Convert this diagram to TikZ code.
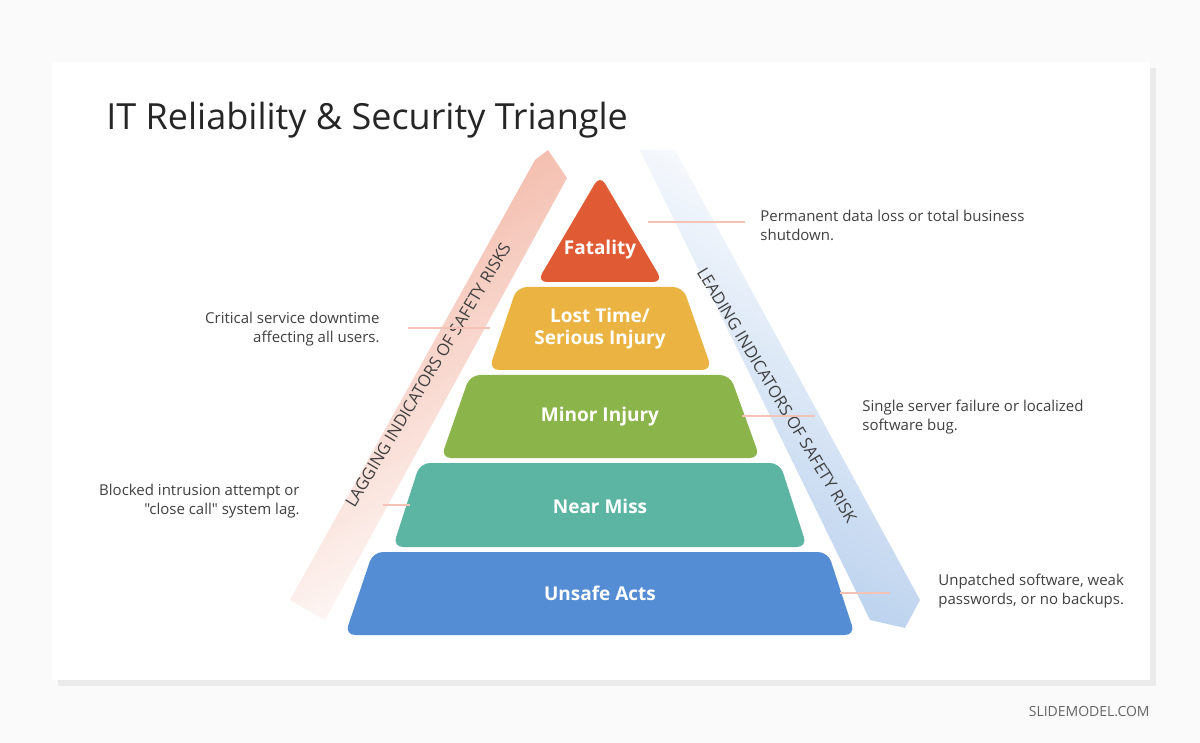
\documentclass[tikz,border=0pt]{standalone}
\usepackage{fontspec}
\setmainfont{Open Sans}[Ligatures=TeXOff]
\usetikzlibrary{shadows}
\definecolor{fatal}{HTML}{E05A33}
\definecolor{lost}{HTML}{EBB342}
\definecolor{minor}{HTML}{8BB54A}
\definecolor{near}{HTML}{5BB5A2}
\definecolor{unsafe}{HTML}{548DD4}
\definecolor{lagc}{HTML}{F2B4A2}
\definecolor{leadc}{HTML}{B4CDEC}
\definecolor{txt}{HTML}{404040}
\tikzset{
	layer/.style={rounded corners=5pt},
	lvl/.style={font=\bfseries\fontsize{9.5}{11}\selectfont, text=white, align=center},
	note/.style={font=\fontsize{7.5}{9.5}\selectfont, text=txt, inner sep=0pt},
	tick/.style={lagc!80, line width=0.6pt}
}
\begin{document}
\begin{tikzpicture}[x=0.5pt,y=-0.5pt]
	\useasboundingbox (0,0) rectangle (1200,743);
	\fill[gray!4] (0,0) rectangle (1200,743);
	\fill[white, drop shadow={opacity=0.12,shadow xshift=3pt,shadow yshift=-3pt}] (52,62) rectangle (1150,680);
	\node[anchor=west, font=\fontsize{18}{21}\selectfont, text=black!85, inner sep=0pt] (title) at (106,120) {IT Reliability \& Security Triangle};
	% bands
	\shade[bottom color=white, top color=lagc, shading angle=31] (290,600) -- (325,620) -- (567,178) -- (548,150) -- (535,160) -- cycle;
	\shade[top color=white, bottom color=leadc, shading angle=-30] (640,150) -- (675,150) -- (920,600) -- (905,628) -- (870,620) -- cycle;
	\node[rotate=59, font=\fontsize{8.3}{9}\selectfont, text=txt] (lag) at (428,375) {LAGGING INDICATORS OF SAFETY RISKS};
	\node[rotate=-59, font=\fontsize{8.3}{9}\selectfont, text=txt] (lead) at (777,395) {LEADING INDICATORS OF SAFETY RISK};
	% layers
	\fill[fatal, layer] (600,175) -- (663,282) -- (537,282) -- cycle;
	\fill[lost, layer] (517,287) -- (683,287) -- (712,370) -- (489,370) -- cycle;
	\fill[minor, layer] (470,375) -- (730,375) -- (760,458) -- (441,458) -- cycle;
	\fill[near, layer] (420,463) -- (780,463) -- (807,547) -- (393,547) -- cycle;
	\fill[unsafe, layer] (373,552) -- (828,552) -- (855,635) -- (345,635) -- cycle;
	\node[lvl] (fatality) at (600,250) {Fatality};
	\node[lvl] (losttime) at (600,329) {Lost Time/\\Serious Injury};
	\node[lvl] (minorinj) at (600,417) {Minor Injury};
	\node[lvl] (nearmiss) at (600,506) {Near Miss};
	\node[lvl] (unsafeacts) at (600,593) {Unsafe Acts};
	% notes
	\node[note, anchor=west, align=left] (n1) at (760,225) {Permanent data loss or total business\\shutdown.};
	\node[note, anchor=east, align=right] (n2) at (380,329) {Critical service downtime\\affecting all users.};
	\node[note, anchor=west, align=left] (n3) at (862,417) {Single server failure or localized\\software bug.};
	\node[note, anchor=east, align=right] (n4) at (300,501) {Blocked intrusion attempt or\\"close call" system lag.};
	\node[note, anchor=west, align=left] (n5) at (938,591) {Unpatched software, weak\\passwords, or no backups.};
	\coordinate (c1a) at (648,222); \coordinate (c1b) at (745,222);
	\coordinate (c2a) at (408,328); \coordinate (c2b) at (490,328);
	\coordinate (c3a) at (742,416); \coordinate (c3b) at (815,416);
	\coordinate (c4a) at (383,505); \coordinate (c4b) at (410,505);
	\coordinate (c5a) at (840,593); \coordinate (c5b) at (890,593);
	\foreach \c in {1,...,5} \draw[tick] (c\c a) -- (c\c b);
	\node[anchor=east, font=\fontsize{7}{8}\selectfont, text=black!60, inner sep=0pt] (brand) at (1150,712) {SLIDEMODEL.COM};
\end{tikzpicture}
\end{document}
